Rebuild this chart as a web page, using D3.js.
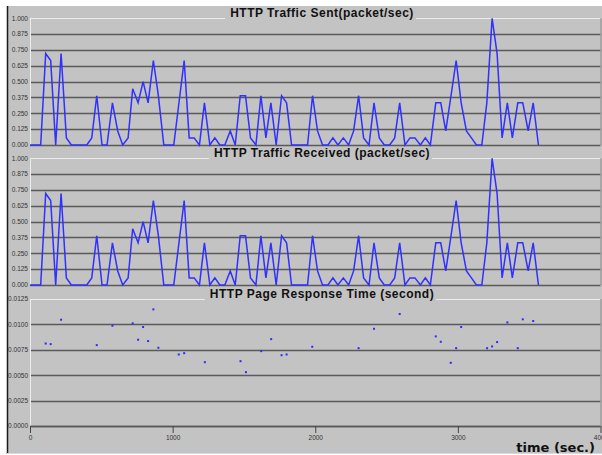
<!DOCTYPE html>
<meta charset="utf-8">
<style>
body { margin: 0; background: #fff; }
.grid { stroke: #5a5a5a; stroke-width: 1.5px; }
.edge { stroke: #ececec; stroke-width: 1px; }
.line { fill: none; stroke: #3030ff; stroke-width: 1.5px; }
.ylab, .xlab { font-family: "Liberation Sans Narrow", "Liberation Sans", sans-serif; font-size: 6.5px; fill: #333; }
.title { font-family: "Liberation Sans", Arial, sans-serif; font-weight: bold; font-size: 12px; letter-spacing: 0.5px; fill: #111; }
</style>
<body>
<script src="https://d3js.org/d3.v7.min.js"></script>
<script>

// sample times (sec.)
var sampleTimes = [0, 75, 110, 145, 180, 218, 255, 290, 398, 433, 468, 505, 540, 578, 615, 650, 688, 720, 758, 793,
  828, 865, 900, 938, 1008, 1081, 1116, 1151, 1188, 1223, 1261, 1296, 1331, 1366, 1404, 1439, 1474, 1511, 1546, 1584,
  1619, 1654, 1689, 1726, 1764, 1799, 1834, 1946, 1981, 2016, 2051, 2089, 2124, 2159, 2197, 2234, 2269, 2304, 2339, 2377,
  2412, 2449, 2484, 2522, 2557, 2592, 2629, 2664, 2699, 2737, 2772, 2807, 2845, 2880, 2915, 2952, 2988, 3023, 3060, 3095,
  3130, 3168, 3203, 3240, 3275, 3310, 3347, 3382, 3420, 3455, 3493, 3528, 3565];

// HTTP traffic sent (packet/sec)
var sentValues = [0, 0, 0.722, 0.667, 0, 0.722, 0.056, 0, 0, 0.056, 0.389, 0, 0, 0.333, 0.111, 0, 0.056, 0.444, 0.333, 0.5,
  0.333, 0.667, 0.389, 0, 0, 0.667, 0.056, 0.056, 0, 0.333, 0, 0.056, 0, 0, 0.111, 0, 0.389, 0.389, 0.056, 0,
  0.389, 0.056, 0.333, 0, 0.389, 0.333, 0, 0, 0.389, 0.111, 0, 0, 0.056, 0, 0.056, 0, 0.111, 0.389, 0.056, 0,
  0.333, 0.056, 0, 0, 0.056, 0.333, 0, 0.056, 0.056, 0, 0.056, 0, 0.333, 0.333, 0.111, 0.389, 0.667, 0.333, 0.111, 0.056,
  0, 0, 0.333, 1.0, 0.722, 0.056, 0.333, 0.056, 0.333, 0.333, 0.111, 0.333, 0];

// HTTP traffic received (packet/sec)
var receivedValues = [0, 0, 0.722, 0.667, 0, 0.722, 0.056, 0, 0, 0.056, 0.389, 0, 0, 0.333, 0.111, 0, 0.056, 0.444, 0.333, 0.5,
  0.333, 0.667, 0.389, 0, 0, 0.667, 0.056, 0.056, 0, 0.333, 0, 0.056, 0, 0, 0.111, 0, 0.389, 0.389, 0.056, 0,
  0.389, 0.056, 0.333, 0, 0.389, 0.333, 0, 0, 0.389, 0.111, 0, 0, 0.056, 0, 0.056, 0, 0.111, 0.389, 0.056, 0,
  0.333, 0.056, 0, 0, 0.056, 0.333, 0, 0.056, 0.056, 0, 0.056, 0, 0.333, 0.333, 0.111, 0.389, 0.667, 0.333, 0.111, 0.056,
  0, 0, 0.333, 1.0, 0.722, 0.056, 0.333, 0.056, 0.333, 0.333, 0.111, 0.333, 0];

// HTTP page response time (second)
var responseTimes = [110, 145, 218, 468, 578, 720, 758, 793, 828, 865, 900, 1043, 1081, 1226, 1476, 1514, 1621, 1691, 1764, 1799,
  1979, 2304, 2412, 2592, 2845, 2880, 2950, 2988, 3023, 3205, 3240, 3275, 3347, 3420, 3455, 3528];
var responseValues = [0.00812, 0.00806, 0.01046, 0.00796, 0.00987, 0.0101, 0.00849, 0.00974, 0.00836, 0.01148, 0.0077, 0.00704, 0.00717, 0.00628, 0.00638, 0.0053, 0.00737, 0.00855, 0.00697, 0.00704,
  0.0078, 0.00766, 0.00957, 0.01102, 0.00882, 0.00829, 0.00622, 0.00766, 0.00974, 0.00766, 0.00783, 0.00826, 0.0102, 0.00766, 0.0105, 0.01033];

var trafficTicks = [0, 0.125, 0.25, 0.375, 0.5, 0.625, 0.75, 0.875, 1.0];
var responseTicks = [0, 0.0025, 0.005, 0.0075, 0.01, 0.0125];
var timeTicks = [0, 1000, 2000, 3000, 4000];

var W = 602, H = 455;
var left = 30, right = 600.5;

var svg = d3.select("body").append("svg")
    .attr("width", W)
    .attr("height", H);

// background
svg.append("rect").attr("x", 7).attr("y", 6).attr("width", W - 7).attr("height", H - 8).attr("fill", "#c3c3c3");
svg.append("line").attr("x1", 7.5).attr("x2", 7.5).attr("y1", 6).attr("y2", 454).attr("stroke", "#1a1a1a").attr("stroke-width", 1.5);
svg.append("line").attr("x1", 7).attr("x2", W).attr("y1", 453.5).attr("y2", 453.5).attr("stroke", "#d4dbe8");

var x = d3.scaleLinear().domain([0, 4000]).range([left, right]);

var panels = [
  {title: "HTTP Traffic Sent(packet/sec)", top: 18.3, bottom: 145, max: 1, ticks: trafficTicks, fmt: d3.format(".3f")},
  {title: "HTTP Traffic Received (packet/sec)", top: 158.3, bottom: 285, max: 1, ticks: trafficTicks, fmt: d3.format(".3f")},
  {title: "HTTP Page Response Time (second)", top: 299, bottom: 426, max: 0.0125, ticks: responseTicks, fmt: d3.format(".4f")}
];

panels.forEach(function(p) {
  p.y = d3.scaleLinear().domain([0, p.max]).range([p.bottom, p.top]);
  var g = svg.append("g");

  // gridlines (top one is the light frame edge)
  g.selectAll(".grid").data(p.ticks.slice(0, -1)).enter().append("line")
      .attr("class", "grid")
      .attr("x1", left).attr("x2", right)
      .attr("y1", function(d) { return Math.round(p.y(d)) + 0.5; })
      .attr("y2", function(d) { return Math.round(p.y(d)) + 0.5; });
  g.append("line").attr("class", "edge")
      .attr("x1", left).attr("x2", right)
      .attr("y1", Math.round(p.y(p.max)) + 0.5).attr("y2", Math.round(p.y(p.max)) + 0.5);
  g.append("line").attr("class", "edge")
      .attr("x1", left + 0.5).attr("x2", left + 0.5)
      .attr("y1", p.top).attr("y2", p.bottom);
  g.append("line").attr("stroke", "#8a8a8a")
      .attr("x1", right + 0.5).attr("x2", right + 0.5)
      .attr("y1", p.top).attr("y2", p.bottom);

  g.selectAll(".ylab").data(p.ticks).enter().append("text")
      .attr("class", "ylab")
      .attr("x", 28)
      .attr("y", function(d) { return p.y(d) + 2.3; })
      .attr("text-anchor", "end")
      .text(p.fmt);

  // title on a gray patch that hides the frame edge
  var t = g.append("text").attr("class", "title")
      .attr("x", 322).attr("y", p.top - 1.3)
      .attr("text-anchor", "middle")
      .text(p.title);
  var bb = t.node().getBBox();
  g.insert("rect", "text.title")
      .attr("x", bb.x - 5).attr("y", p.top - 3).attr("width", bb.width + 7).attr("height", 6)
      .attr("fill", "#c3c3c3");
});

// traffic lines
var sent = sampleTimes.map(function(t, i) { return {t: t, v: sentValues[i]}; });
var received = sampleTimes.map(function(t, i) { return {t: t, v: receivedValues[i]}; });

var line0 = d3.line().x(function(d) { return x(d.t); }).y(function(d) { return panels[0].y(d.v); });
var line1 = d3.line().x(function(d) { return x(d.t); }).y(function(d) { return panels[1].y(d.v); });

svg.append("path").datum(sent).attr("class", "line").attr("d", line0);
svg.append("path").datum(received).attr("class", "line").attr("d", line1);

// response time points
var y2 = panels[2].y;
svg.selectAll(".pt").data(responseTimes).enter().append("rect")
    .attr("class", "pt")
    .attr("x", function(d) { return x(d) - 1; })
    .attr("y", function(d, i) { return y2(responseValues[i]) - 1; })
    .attr("width", 2).attr("height", 2)
    .attr("fill", "#2b2bff");

// x axis
var xAxis = svg.append("g")
    .attr("transform", "translate(0,426)")
    .call(d3.axisBottom(x).tickValues(timeTicks).tickSize(7).tickPadding(2).tickFormat(d3.format("d")));
xAxis.select(".domain").attr("stroke", "#5a5a5a").attr("stroke-width", 1.5).attr("d", "M" + left + ",0.5H" + right);
xAxis.selectAll(".tick line").attr("stroke", "#444");
xAxis.selectAll(".tick text").attr("class", "xlab").attr("font-size", null).attr("font-family", null).attr("fill", null);

svg.append("text")
    .attr("x", 595).attr("y", 451.5)
    .attr("text-anchor", "end")
    .style("font-family", "'DejaVu Sans', sans-serif")
    .style("font-weight", "bold")
    .style("font-size", "13px")
    .attr("fill", "#111")
    .text("time (sec.)");

</script>
</body>
